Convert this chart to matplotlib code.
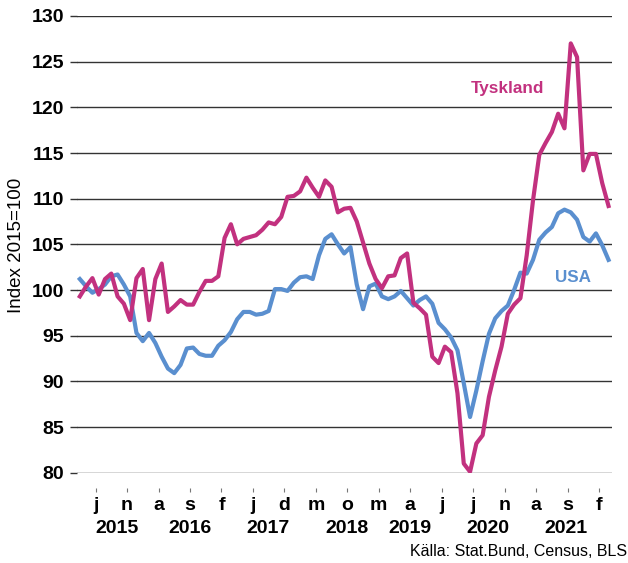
import matplotlib.pyplot as plt
import matplotlib.transforms as mtransforms
import numpy as np

plt.rcParams['font.family'] = ['Liberation Sans', 'DejaVu Sans']

# === Data: monthly index, 2015=100, March 2015 - March 2022 === #
start_month = 2  # months after Jan 2015

tyskland = [99.3, 100.4, 101.3, 99.5, 101.2, 101.8, 99.3, 98.5, 96.7, 101.3,
            102.3, 96.7, 101.2, 102.9, 97.6, 98.2, 98.9, 98.4, 98.4, 99.8,
            101.0, 101.0, 101.5, 105.7, 107.2, 105.0, 105.6, 105.8, 106.0, 106.6,
            107.4, 107.2, 108.0, 110.2, 110.3, 110.8, 112.3, 111.2, 110.2, 112.0,
            111.3, 108.5, 108.9, 109.0, 107.5, 105.2, 102.9, 101.2, 100.2, 101.5,
            101.6, 103.5, 104.0, 98.6, 98.0, 97.3, 92.7, 92.0, 93.8, 93.2,
            88.7, 81.0, 80.1, 83.2, 84.1, 88.3, 91.2, 93.8, 97.4, 98.4,
            99.1, 103.8, 109.8, 114.8, 116.1, 117.3, 119.3, 117.7, 127.0, 125.5,
            113.1, 114.9, 114.9, 111.7, 109.2]

usa = [101.2, 100.4, 99.7, 100.1, 100.6, 101.5, 101.7, 100.6, 99.3, 95.3,
       94.4, 95.3, 94.2, 92.7, 91.4, 90.9, 91.8, 93.6, 93.7, 93.0,
       92.8, 92.8, 93.9, 94.5, 95.4, 96.8, 97.6, 97.6, 97.3, 97.4,
       97.7, 100.1, 100.1, 99.9, 100.8, 101.4, 101.5, 101.2, 103.8, 105.6,
       106.1, 105.0, 104.0, 104.7, 100.6, 97.9, 100.4, 100.7, 99.3, 99.0,
       99.3, 99.9, 99.1, 98.3, 98.9, 99.3, 98.5, 96.4, 95.7, 94.8,
       93.4, 89.8, 86.1, 89.0, 92.2, 95.2, 96.9, 97.7, 98.3, 100.0,
       101.9, 101.8, 103.3, 105.5, 106.3, 106.9, 108.4, 108.8, 108.5, 107.7,
       105.8, 105.3, 106.2, 104.9, 103.3]

years = ['2015', '2016', '2017', '2018', '2019', '2020', '2021']
month_letters = 'jfmamjjasond'

magenta = '#C2317F'
blue = '#5A8FCF'

fig = plt.figure(figsize=(6.28, 5.63), dpi=100)
ax = fig.add_axes([0.1221, 0.1604, 0.8519, 0.8112])

# spines first (moving a spine resets the ticks)
for s in ['left', 'right', 'top']:
    ax.spines[s].set_visible(False)
ax.spines['bottom'].set_position(('outward', 11))
ax.spines['bottom'].set_visible(False)

x = np.arange(len(usa)) + start_month + 0.5
ax.plot(x, usa, color=blue, lw=3)
ax.plot(x, tyskland, color=magenta, lw=3)

ax.set_xlim(start_month, start_month + len(usa))
ax.set_ylim(80, 130)

# y axis
ax.set_yticks(range(80, 131, 5))
ax.yaxis.grid(True, color='#333333', lw=1)
ax.set_axisbelow(True)
ax.tick_params(axis='y', length=5, width=1, color='#333333', pad=4, labelsize=14)
for lab in ax.get_yticklabels():
    lab.set_fontweight('bold')

# x axis: every 5th month, swedish initials
xt = list(range(5, start_month + len(usa), 5))
ax.set_xticks(xt)
ax.set_xticklabels([month_letters[t % 12] for t in xt], fontsize=14, fontweight='bold')
ax.tick_params(axis='x', length=3, width=0.8, color='#777777', pad=3.5)

# year labels under the month letters
year_pos = [8.4, 20.0, 32.4, 44.9, 55.0, 67.3, 79.8]
trans = mtransforms.blended_transform_factory(ax.transData, ax.transAxes)
for p, yr in zip(year_pos, years):
    ax.text(p, -0.132, yr, transform=trans, ha='center', va='baseline',
            fontsize=14, fontweight='bold')

# series labels
ax.text(70.5, 122.1, 'Tyskland', color=magenta, fontsize=12.3, fontweight='bold',
        ha='center', va='center')
ax.text(80.9, 101.4, 'USA', color=blue, fontsize=12.3, fontweight='bold',
        ha='center', va='center')

fig.text(17 / 628, 1 - 245 / 563, 'Index 2015=100', rotation=90, ha='center',
         va='center', fontsize=13.5)
fig.text(0.998, 1 - 552 / 563, 'Källa: Stat.Bund, Census, BLS', ha='right',
         va='center', fontsize=11.5)

fig.savefig('out.png', dpi=100)
